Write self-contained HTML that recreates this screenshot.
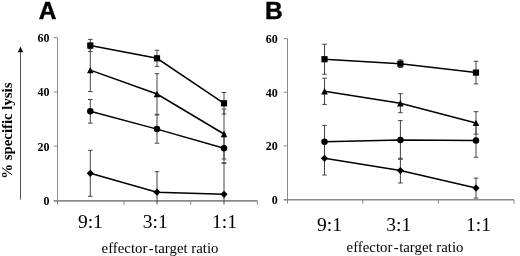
<!DOCTYPE html>
<html><head><meta charset="utf-8"><style>
html,body{margin:0;padding:0;background:#fff;}
body{width:520px;height:256px;overflow:hidden;}
svg{display:block;will-change:transform;}
.yl{font-family:"Liberation Serif",serif;font-weight:bold;font-size:12px;fill:#000;}
.xl{font-family:"Liberation Serif",serif;font-size:19.5px;fill:#000;}
.xt{font-family:"Liberation Serif",serif;font-size:14.8px;fill:#000;}
.yt{font-family:"Liberation Serif",serif;font-weight:bold;font-size:14.8px;fill:#000;}
.let{font-family:"Liberation Sans",sans-serif;font-weight:bold;font-size:24.5px;fill:#000;stroke:#000;stroke-width:0.45px;}
</style></head><body>
<svg width="520" height="256" viewBox="0 0 520 256">
<rect width="520" height="256" fill="#fff"/>
<line x1="57.5" y1="37.6" x2="57.5" y2="204.70000000000002" stroke="#8a8a8a" stroke-width="1"/>
<line x1="53.7" y1="37.6" x2="57.5" y2="37.6" stroke="#8a8a8a" stroke-width="1"/>
<line x1="53.7" y1="91.9" x2="57.5" y2="91.9" stroke="#8a8a8a" stroke-width="1"/>
<line x1="53.7" y1="146.2" x2="57.5" y2="146.2" stroke="#8a8a8a" stroke-width="1"/>
<line x1="53.7" y1="200.6" x2="57.5" y2="200.6" stroke="#8a8a8a" stroke-width="1"/>
<line x1="53.9" y1="200.9" x2="257.5" y2="200.9" stroke="#8a8a8a" stroke-width="1.6"/>
<line x1="123.9" y1="200.9" x2="123.9" y2="204.70000000000002" stroke="#8a8a8a" stroke-width="1"/>
<line x1="190.7" y1="200.9" x2="190.7" y2="204.70000000000002" stroke="#8a8a8a" stroke-width="1"/>
<line x1="257.3" y1="200.9" x2="257.3" y2="204.70000000000002" stroke="#8a8a8a" stroke-width="1"/>
<text x="49.6" y="41.9" text-anchor="end" class="yl">60</text>
<text x="49.6" y="96.2" text-anchor="end" class="yl">40</text>
<text x="49.6" y="150.5" text-anchor="end" class="yl">20</text>
<text x="49.6" y="204.9" text-anchor="end" class="yl">0</text>
<text x="90.4" y="228" text-anchor="middle" class="xl">9:1</text>
<text x="155.2" y="228" text-anchor="middle" class="xl">3:1</text>
<text x="224.5" y="228" text-anchor="middle" class="xl">1:1</text>
<text x="160" y="252.5" text-anchor="middle" class="xt">effector<tspan dx="1.6">-</tspan><tspan dx="0.6">target ratio</tspan></text>
<text x="38.7" y="19.2" class="let">A</text>
<line x1="90.30" y1="39.40" x2="90.30" y2="51.60" stroke="#444" stroke-width="1"/>
<line x1="88.00" y1="39.40" x2="92.60" y2="39.40" stroke="#444" stroke-width="1"/>
<line x1="88.00" y1="51.60" x2="92.60" y2="51.60" stroke="#444" stroke-width="1"/>
<line x1="157.00" y1="50.30" x2="157.00" y2="66.30" stroke="#444" stroke-width="1"/>
<line x1="154.70" y1="50.30" x2="159.30" y2="50.30" stroke="#444" stroke-width="1"/>
<line x1="154.70" y1="66.30" x2="159.30" y2="66.30" stroke="#444" stroke-width="1"/>
<line x1="224.00" y1="92.50" x2="224.00" y2="114.10" stroke="#444" stroke-width="1"/>
<line x1="221.70" y1="92.50" x2="226.30" y2="92.50" stroke="#444" stroke-width="1"/>
<line x1="221.70" y1="114.10" x2="226.30" y2="114.10" stroke="#444" stroke-width="1"/>
<line x1="90.30" y1="48.60" x2="90.30" y2="91.60" stroke="#444" stroke-width="1"/>
<line x1="88.00" y1="48.60" x2="92.60" y2="48.60" stroke="#444" stroke-width="1"/>
<line x1="88.00" y1="91.60" x2="92.60" y2="91.60" stroke="#444" stroke-width="1"/>
<line x1="157.00" y1="73.70" x2="157.00" y2="114.30" stroke="#444" stroke-width="1"/>
<line x1="154.70" y1="73.70" x2="159.30" y2="73.70" stroke="#444" stroke-width="1"/>
<line x1="154.70" y1="114.30" x2="159.30" y2="114.30" stroke="#444" stroke-width="1"/>
<line x1="224.00" y1="109.00" x2="224.00" y2="159.00" stroke="#444" stroke-width="1"/>
<line x1="221.70" y1="109.00" x2="226.30" y2="109.00" stroke="#444" stroke-width="1"/>
<line x1="221.70" y1="159.00" x2="226.30" y2="159.00" stroke="#444" stroke-width="1"/>
<line x1="90.30" y1="99.50" x2="90.30" y2="123.10" stroke="#444" stroke-width="1"/>
<line x1="88.00" y1="99.50" x2="92.60" y2="99.50" stroke="#444" stroke-width="1"/>
<line x1="88.00" y1="123.10" x2="92.60" y2="123.10" stroke="#444" stroke-width="1"/>
<line x1="157.00" y1="115.00" x2="157.00" y2="143.20" stroke="#444" stroke-width="1"/>
<line x1="154.70" y1="115.00" x2="159.30" y2="115.00" stroke="#444" stroke-width="1"/>
<line x1="154.70" y1="143.20" x2="159.30" y2="143.20" stroke="#444" stroke-width="1"/>
<line x1="224.00" y1="133.70" x2="224.00" y2="162.90" stroke="#444" stroke-width="1"/>
<line x1="221.70" y1="133.70" x2="226.30" y2="133.70" stroke="#444" stroke-width="1"/>
<line x1="221.70" y1="162.90" x2="226.30" y2="162.90" stroke="#444" stroke-width="1"/>
<line x1="90.30" y1="150.30" x2="90.30" y2="196.30" stroke="#444" stroke-width="1"/>
<line x1="88.00" y1="150.30" x2="92.60" y2="150.30" stroke="#444" stroke-width="1"/>
<line x1="88.00" y1="196.30" x2="92.60" y2="196.30" stroke="#444" stroke-width="1"/>
<line x1="157.00" y1="171.70" x2="157.00" y2="204.40" stroke="#444" stroke-width="1"/>
<line x1="154.70" y1="171.70" x2="159.30" y2="171.70" stroke="#444" stroke-width="1"/>
<line x1="224.00" y1="163.30" x2="224.00" y2="204.40" stroke="#444" stroke-width="1"/>
<line x1="221.70" y1="163.30" x2="226.30" y2="163.30" stroke="#444" stroke-width="1"/>
<path d="M90.30 45.50 L157.00 58.30 L224.00 103.30" fill="none" stroke="#000" stroke-width="1.5"/>
<path d="M90.30 70.10 L157.00 94.00 L224.00 134.00" fill="none" stroke="#000" stroke-width="1.5"/>
<path d="M90.30 111.30 L157.00 129.10 L224.00 148.30" fill="none" stroke="#000" stroke-width="1.5"/>
<path d="M90.30 173.30 L157.00 192.20 L224.00 194.30" fill="none" stroke="#000" stroke-width="1.5"/>
<rect x="87.20" y="42.40" width="6.20" height="6.20" fill="#000"/>
<rect x="153.90" y="55.20" width="6.20" height="6.20" fill="#000"/>
<rect x="220.90" y="100.20" width="6.20" height="6.20" fill="#000"/>
<path d="M90.30 66.90 L93.60 73.30 L87.00 73.30 Z" fill="#000"/>
<path d="M157.00 90.80 L160.30 97.20 L153.70 97.20 Z" fill="#000"/>
<path d="M224.00 130.80 L227.30 137.20 L220.70 137.20 Z" fill="#000"/>
<circle cx="90.30" cy="111.30" r="3.25" fill="#000"/>
<circle cx="157.00" cy="129.10" r="3.25" fill="#000"/>
<circle cx="224.00" cy="148.30" r="3.25" fill="#000"/>
<path d="M90.30 169.70 L93.90 173.30 L90.30 176.90 L86.70 173.30 Z" fill="#000"/>
<path d="M157.00 188.60 L160.60 192.20 L157.00 195.80 L153.40 192.20 Z" fill="#000"/>
<path d="M224.00 190.70 L227.60 194.30 L224.00 197.90 L220.40 194.30 Z" fill="#000"/>
<line x1="287.5" y1="38.6" x2="287.5" y2="203.60000000000002" stroke="#8a8a8a" stroke-width="1"/>
<line x1="283.7" y1="38.6" x2="287.5" y2="38.6" stroke="#8a8a8a" stroke-width="1"/>
<line x1="283.7" y1="92.2" x2="287.5" y2="92.2" stroke="#8a8a8a" stroke-width="1"/>
<line x1="283.7" y1="145.9" x2="287.5" y2="145.9" stroke="#8a8a8a" stroke-width="1"/>
<line x1="283.7" y1="199.8" x2="287.5" y2="199.8" stroke="#8a8a8a" stroke-width="1"/>
<line x1="283.9" y1="199.8" x2="514" y2="199.8" stroke="#8a8a8a" stroke-width="1.6"/>
<line x1="362.8" y1="199.8" x2="362.8" y2="203.60000000000002" stroke="#8a8a8a" stroke-width="1"/>
<line x1="438.4" y1="199.8" x2="438.4" y2="203.60000000000002" stroke="#8a8a8a" stroke-width="1"/>
<line x1="514" y1="199.8" x2="514" y2="203.60000000000002" stroke="#8a8a8a" stroke-width="1"/>
<text x="277.8" y="43.0" text-anchor="end" class="yl">60</text>
<text x="277.8" y="96.60000000000001" text-anchor="end" class="yl">40</text>
<text x="277.8" y="150.3" text-anchor="end" class="yl">20</text>
<text x="277.8" y="204.20000000000002" text-anchor="end" class="yl">0</text>
<text x="329.5" y="231" text-anchor="middle" class="xl">9:1</text>
<text x="398.7" y="231" text-anchor="middle" class="xl">3:1</text>
<text x="478.5" y="231" text-anchor="middle" class="xl">1:1</text>
<text x="405" y="252.3" text-anchor="middle" class="xt">effector<tspan dx="1.6">-</tspan><tspan dx="0.6">target ratio</tspan></text>
<text x="264.9" y="19" class="let">B</text>
<line x1="324.50" y1="44.20" x2="324.50" y2="74.20" stroke="#444" stroke-width="1"/>
<line x1="322.20" y1="44.20" x2="326.80" y2="44.20" stroke="#444" stroke-width="1"/>
<line x1="322.20" y1="74.20" x2="326.80" y2="74.20" stroke="#444" stroke-width="1"/>
<line x1="400.40" y1="59.90" x2="400.40" y2="67.50" stroke="#444" stroke-width="1"/>
<line x1="398.10" y1="59.90" x2="402.70" y2="59.90" stroke="#444" stroke-width="1"/>
<line x1="398.10" y1="67.50" x2="402.70" y2="67.50" stroke="#444" stroke-width="1"/>
<line x1="476.00" y1="61.30" x2="476.00" y2="83.90" stroke="#444" stroke-width="1"/>
<line x1="473.70" y1="61.30" x2="478.30" y2="61.30" stroke="#444" stroke-width="1"/>
<line x1="473.70" y1="83.90" x2="478.30" y2="83.90" stroke="#444" stroke-width="1"/>
<line x1="324.50" y1="78.20" x2="324.50" y2="104.40" stroke="#444" stroke-width="1"/>
<line x1="322.20" y1="78.20" x2="326.80" y2="78.20" stroke="#444" stroke-width="1"/>
<line x1="322.20" y1="104.40" x2="326.80" y2="104.40" stroke="#444" stroke-width="1"/>
<line x1="400.40" y1="93.70" x2="400.40" y2="112.70" stroke="#444" stroke-width="1"/>
<line x1="398.10" y1="93.70" x2="402.70" y2="93.70" stroke="#444" stroke-width="1"/>
<line x1="398.10" y1="112.70" x2="402.70" y2="112.70" stroke="#444" stroke-width="1"/>
<line x1="476.00" y1="111.70" x2="476.00" y2="134.10" stroke="#444" stroke-width="1"/>
<line x1="473.70" y1="111.70" x2="478.30" y2="111.70" stroke="#444" stroke-width="1"/>
<line x1="473.70" y1="134.10" x2="478.30" y2="134.10" stroke="#444" stroke-width="1"/>
<line x1="324.50" y1="125.40" x2="324.50" y2="158.20" stroke="#444" stroke-width="1"/>
<line x1="322.20" y1="125.40" x2="326.80" y2="125.40" stroke="#444" stroke-width="1"/>
<line x1="322.20" y1="158.20" x2="326.80" y2="158.20" stroke="#444" stroke-width="1"/>
<line x1="400.40" y1="120.60" x2="400.40" y2="159.40" stroke="#444" stroke-width="1"/>
<line x1="398.10" y1="120.60" x2="402.70" y2="120.60" stroke="#444" stroke-width="1"/>
<line x1="398.10" y1="159.40" x2="402.70" y2="159.40" stroke="#444" stroke-width="1"/>
<line x1="476.00" y1="124.00" x2="476.00" y2="157.20" stroke="#444" stroke-width="1"/>
<line x1="473.70" y1="124.00" x2="478.30" y2="124.00" stroke="#444" stroke-width="1"/>
<line x1="473.70" y1="157.20" x2="478.30" y2="157.20" stroke="#444" stroke-width="1"/>
<line x1="324.50" y1="141.60" x2="324.50" y2="175.00" stroke="#444" stroke-width="1"/>
<line x1="322.20" y1="141.60" x2="326.80" y2="141.60" stroke="#444" stroke-width="1"/>
<line x1="322.20" y1="175.00" x2="326.80" y2="175.00" stroke="#444" stroke-width="1"/>
<line x1="400.40" y1="158.20" x2="400.40" y2="183.00" stroke="#444" stroke-width="1"/>
<line x1="398.10" y1="158.20" x2="402.70" y2="158.20" stroke="#444" stroke-width="1"/>
<line x1="398.10" y1="183.00" x2="402.70" y2="183.00" stroke="#444" stroke-width="1"/>
<line x1="476.00" y1="178.10" x2="476.00" y2="198.10" stroke="#444" stroke-width="1"/>
<line x1="473.70" y1="178.10" x2="478.30" y2="178.10" stroke="#444" stroke-width="1"/>
<line x1="473.70" y1="198.10" x2="478.30" y2="198.10" stroke="#444" stroke-width="1"/>
<path d="M324.50 59.20 L400.40 63.70 L476.00 72.60" fill="none" stroke="#000" stroke-width="1.5"/>
<path d="M324.50 91.30 L400.40 103.20 L476.00 122.90" fill="none" stroke="#000" stroke-width="1.5"/>
<path d="M324.50 141.80 L400.40 140.00 L476.00 140.60" fill="none" stroke="#000" stroke-width="1.5"/>
<path d="M324.50 158.30 L400.40 170.60 L476.00 188.10" fill="none" stroke="#000" stroke-width="1.5"/>
<rect x="321.40" y="56.10" width="6.20" height="6.20" fill="#000"/>
<rect x="397.30" y="60.60" width="6.20" height="6.20" fill="#000"/>
<rect x="472.90" y="69.50" width="6.20" height="6.20" fill="#000"/>
<path d="M324.50 88.10 L327.80 94.50 L321.20 94.50 Z" fill="#000"/>
<path d="M400.40 100.00 L403.70 106.40 L397.10 106.40 Z" fill="#000"/>
<path d="M476.00 119.70 L479.30 126.10 L472.70 126.10 Z" fill="#000"/>
<circle cx="324.50" cy="141.80" r="3.25" fill="#000"/>
<circle cx="400.40" cy="140.00" r="3.25" fill="#000"/>
<circle cx="476.00" cy="140.60" r="3.25" fill="#000"/>
<path d="M324.50 154.70 L328.10 158.30 L324.50 161.90 L320.90 158.30 Z" fill="#000"/>
<path d="M400.40 167.00 L404.00 170.60 L400.40 174.20 L396.80 170.60 Z" fill="#000"/>
<path d="M476.00 184.50 L479.60 188.10 L476.00 191.70 L472.40 188.10 Z" fill="#000"/>
<line x1="20.5" y1="51" x2="20.5" y2="199.5" stroke="#555" stroke-width="1"/>
<path d="M20.5 46.5 L23.2 52.2 L17.8 52.2 Z" fill="#111"/>
<text transform="translate(11.6 178.7) rotate(-90)" class="yt">% specific lysis</text>
</svg>
</body></html>
